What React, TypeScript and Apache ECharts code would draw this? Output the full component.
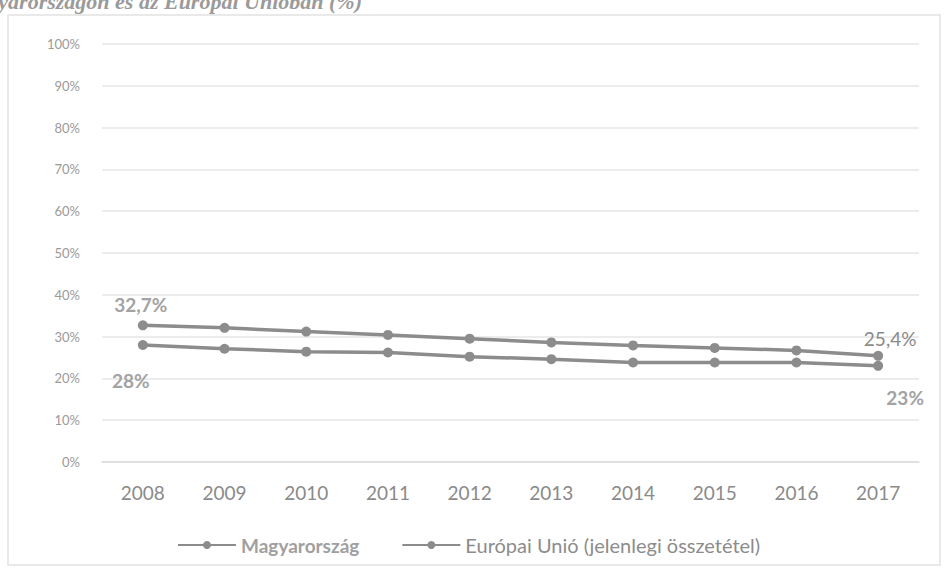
import React, { useEffect, useRef } from "react";
import * as echarts from "echarts";

const years = ["2008", "2009", "2010", "2011", "2012", "2013", "2014", "2015", "2016", "2017"];
const hungary = [32.7, 32.1, 31.2, 30.4, 29.5, 28.6, 27.9, 27.3, 26.7, 25.4];
const eu = [28.0, 27.1, 26.4, 26.2, 25.2, 24.6, 23.8, 23.8, 23.8, 23.0];
const yTicks = [0, 10, 20, 30, 40, 50, 60, 70, 80, 90, 100];
const seriesNames = ["Magyarország", "Európai Unió (jelenlegi összetétel)"];
const titleText = "Magyarországon és az Európai Unióban (%)";

const fmt = (v: number) => String(v).replace(".", ",") + "%";

export default function App() {
  const ref = useRef<HTMLDivElement>(null);
  useEffect(() => {
    if (!ref.current) return;
    const chart = echarts.init(ref.current, undefined, { renderer: "svg" });
    const lineColor = "#8c8c8c";
    const font = "Lato, 'Open Sans', 'Liberation Sans', sans-serif";
    const last = years.length - 1;

    const huData = hungary.map((v, i) => {
      if (i === 0)
        return {
          value: v,
          label: { show: true, position: "top", offset: [-2, -1], fontWeight: "bold", color: "#a3a3a3", fontSize: 19 },
        };
      if (i === last)
        return {
          value: v,
          label: { show: true, position: "top", offset: [12, 2], fontWeight: "normal", color: "#8a8a8a", fontSize: 19 },
        };
      return v;
    });
    const euData = eu.map((v, i) => {
      if (i === 0)
        return {
          value: v,
          label: { show: true, position: "bottom", offset: [-12, 16], fontWeight: "bold", color: "#a3a3a3", fontSize: 19 },
        };
      if (i === last)
        return {
          value: v,
          label: { show: true, position: "bottom", offset: [27, 12], fontWeight: "bold", color: "#a3a3a3", fontSize: 19 },
        };
      return v;
    });

    chart.setOption({
      animation: false,
      backgroundColor: "#ffffff",
      textStyle: { fontFamily: font },
      graphic: [
        {
          type: "rect",
          shape: { x: 8, y: 15, width: 932, height: 550 },
          style: { fill: "none", stroke: "#e2e2e2", lineWidth: 1.5 },
          silent: true,
        },
        {
          type: "text",
          x: 362,
          y: 12,
          style: {
            text: titleText,
            align: "right",
            verticalAlign: "bottom",
            font: "italic bold 22px 'Liberation Serif', 'DejaVu Serif', serif",
            fill: "#9a9a9a",
          },
          silent: true,
        },
      ],
      grid: { left: 102, right: 26, top: 44, bottom: 116 },
      legend: {
        bottom: 18,
        left: 172,
        itemWidth: 58,
        itemHeight: 10,
        itemGap: 42,
        data: [
          { name: seriesNames[0], textStyle: { fontWeight: "bold", color: "#a0a0a0", fontSize: 19 } },
          { name: seriesNames[1], textStyle: { fontWeight: "normal", color: "#8c8c8c", fontSize: 20 } },
        ],
        textStyle: { fontFamily: font, fontSize: 19 },
      },
      xAxis: {
        type: "category",
        data: years,
        boundaryGap: true,
        axisLine: { show: true, lineStyle: { color: "#dcdcdc", width: 1.5 } },
        axisTick: { show: false },
        axisLabel: { color: "#8a8a8a", fontSize: 19, margin: 21, fontFamily: font },
      },
      yAxis: {
        type: "value",
        min: yTicks[0],
        max: yTicks[yTicks.length - 1],
        interval: 10,
        axisLine: { show: false },
        axisTick: { show: false },
        axisLabel: { color: "#9a9a9a", fontSize: 13, margin: 22, formatter: "{value}%", fontFamily: font },
        splitLine: { lineStyle: { color: "#e6e6e6", width: 1.5 } },
      },
      series: [
        {
          name: seriesNames[0],
          type: "line",
          data: huData,
          symbol: "circle",
          symbolSize: 10,
          color: lineColor,
          lineStyle: { color: lineColor, width: 3.5 },
          itemStyle: { color: lineColor },
          label: { show: false, formatter: (p: any) => fmt(p.value), fontFamily: font },
        },
        {
          name: seriesNames[1],
          type: "line",
          data: euData,
          symbol: "circle",
          symbolSize: 10,
          color: lineColor,
          lineStyle: { color: lineColor, width: 3.5 },
          itemStyle: { color: lineColor },
          label: { show: false, formatter: (p: any) => fmt(p.value), fontFamily: font },
        },
      ],
    });
    return () => chart.dispose();
  }, []);

  return (
    <div
      ref={ref}
      style={{ position: "fixed", left: 0, top: 0, width: 945, height: 578, background: "#fff" }}
    />
  );
}
